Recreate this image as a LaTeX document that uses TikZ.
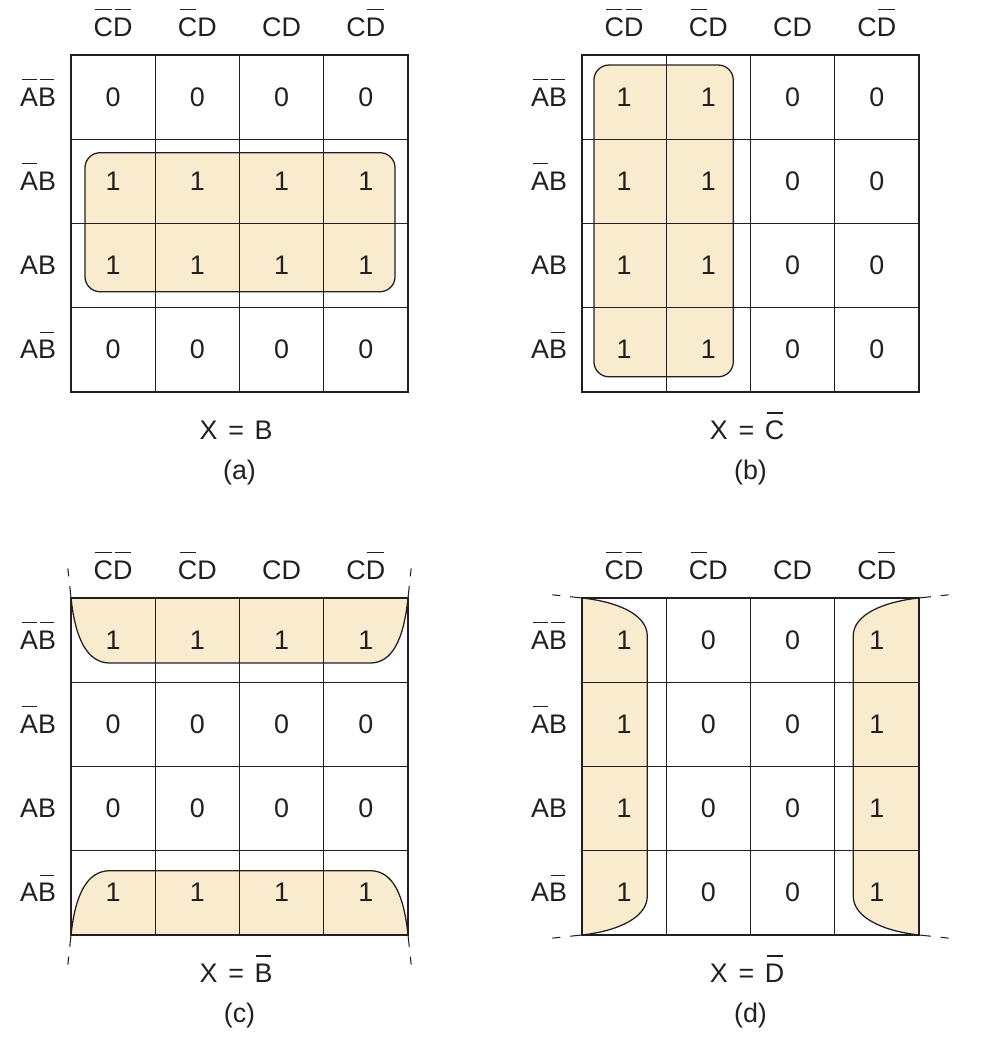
\documentclass[tikz,border=0pt]{standalone}
\usepackage{fontspec}
\setmainfont{Liberation Sans}
\usepackage{tikz}

\definecolor{kfill}{RGB}{249,235,205}
\definecolor{kline}{RGB}{35,31,32}

% letter with a bar over it
\newcommand{\cmpl}[1]{\setbox0=\hbox{#1}\rlap{\kern0.06em\raisebox{0.97em}{\rule{\dimexpr\wd0-0.12em\relax}{0.6pt}}}\box0}

\tikzset{
  kframe/.style={kline,line width=1.3pt},
  gridline/.style={kline,line width=0.65pt},
  group/.style={fill=kfill,draw=kline,line width=0.6pt},
  wrapmark/.style={kline,line width=0.5pt,dash pattern=on 5.6pt off 4.7pt on 3.8pt off 50pt},
  txt/.style={anchor=base,inner sep=0pt,font=\fontsize{12.7}{15}\selectfont,text=kline}
}

\begin{document}
\begin{tikzpicture}[x=1.4cm,y=1.4cm]
  \useasboundingbox (0,0) rectangle (11.691,12.499);
  % groupings first, the grid lines go over them
  \begin{scope}[shift={(0.843,7.846)}]
    \filldraw[group,rounded corners=0.25cm] (0.166,1.19) rectangle (3.846,2.84);
  \end{scope}
  \begin{scope}[shift={(6.908,7.846)}]
    \filldraw[group,rounded corners=0.25cm] (0.142,0.18) rectangle (1.796,3.881);
  \end{scope}
  \begin{scope}[shift={(0.843,1.401)}]
    \filldraw[group] (0,4) .. controls (0.05,3.52) and (0.19,3.228) .. (0.463,3.228) -- %
      (3.549,3.228) .. controls (3.82,3.228) and (3.95,3.52) .. (4,4) -- cycle;
    \filldraw[group] (0,0) .. controls (0.05,0.48) and (0.19,0.763) .. (0.463,0.763) -- %
      (3.549,0.763) .. controls (3.82,0.763) and (3.95,0.48) .. (4,0) -- cycle;
    \draw[wrapmark] (0,4) -- ++(-0.038,0.356);
    \draw[wrapmark] (4,4) -- ++(0.038,0.356);
    \draw[wrapmark] (0,0) -- ++(-0.038,-0.356);
    \draw[wrapmark] (4,0) -- ++(0.038,-0.356);
  \end{scope}
  \begin{scope}[shift={(6.908,1.401)}]
    \filldraw[group] (0,4) .. controls (0.43,3.954) and (0.775,3.80) .. (0.775,3.55) -- %
      (0.775,0.46) .. controls (0.775,0.21) and (0.43,0.046) .. (0,0) -- cycle;
    \filldraw[group] (4,4) .. controls (3.57,3.954) and (3.22,3.80) .. (3.22,3.55) -- %
      (3.22,0.46) .. controls (3.22,0.21) and (3.57,0.046) .. (4,0) -- cycle;
    \draw[wrapmark] (0,4) -- ++(-0.356,0.038);
    \draw[wrapmark] (4,4) -- ++(0.356,0.038);
    \draw[wrapmark] (0,0) -- ++(-0.356,-0.038);
    \draw[wrapmark] (4,0) -- ++(0.356,-0.038);
  \end{scope}
  % the four maps
  \foreach \m/\x/\y/\res/\vals in {%
      a/0.843/7.846/B/{{0,0,0,0},{1,1,1,1},{1,1,1,1},{0,0,0,0}},%
      b/6.908/7.846/{\cmpl{C}}/{{1,1,0,0},{1,1,0,0},{1,1,0,0},{1,1,0,0}},%
      c/0.843/1.401/{\cmpl{B}}/{{1,1,1,1},{0,0,0,0},{0,0,0,0},{1,1,1,1}},%
      d/6.908/1.401/{\cmpl{D}}/{{1,0,0,1},{1,0,0,1},{1,0,0,1},{1,0,0,1}}}
  {
    \begin{scope}[shift={(\x,\y)}]
      \foreach \i in {1,2,3} {
        \draw[gridline] (\i,0) -- (\i,4);
        \draw[gridline] (0,\i) -- (4,\i);
      }
      \draw[kframe] (0,0) rectangle (4,4);
      \foreach \t [count=\col from 0] in {{\cmpl{C}\cmpl{D}},{\cmpl{C}D},CD,{C\cmpl{D}}}
        \node[txt] (\m-h\col) at (\col+0.5,4.222) {\t};
      \foreach \t [count=\row from 0] in {{\cmpl{A}\cmpl{B}},{\cmpl{A}B},AB,{A\cmpl{B}}}
        \node[txt] (\m-r\row) at (-0.39,3.392-\row) {\t};
      \foreach \r [count=\row from 0] in \vals
        \foreach \v [count=\col from 0] in \r
          \node[txt] (\m-v\row\col) at (\col+0.5,3.392-\row) {\v};
      \node[txt] (\m-eq) at (1.96,-0.566) {X\hspace{0.4em}=\hspace{0.4em}\res};
      \node[txt] (\m-tag) at (2,-1.04) {(\m)};
    \end{scope}
  }
\end{tikzpicture}
\end{document}
